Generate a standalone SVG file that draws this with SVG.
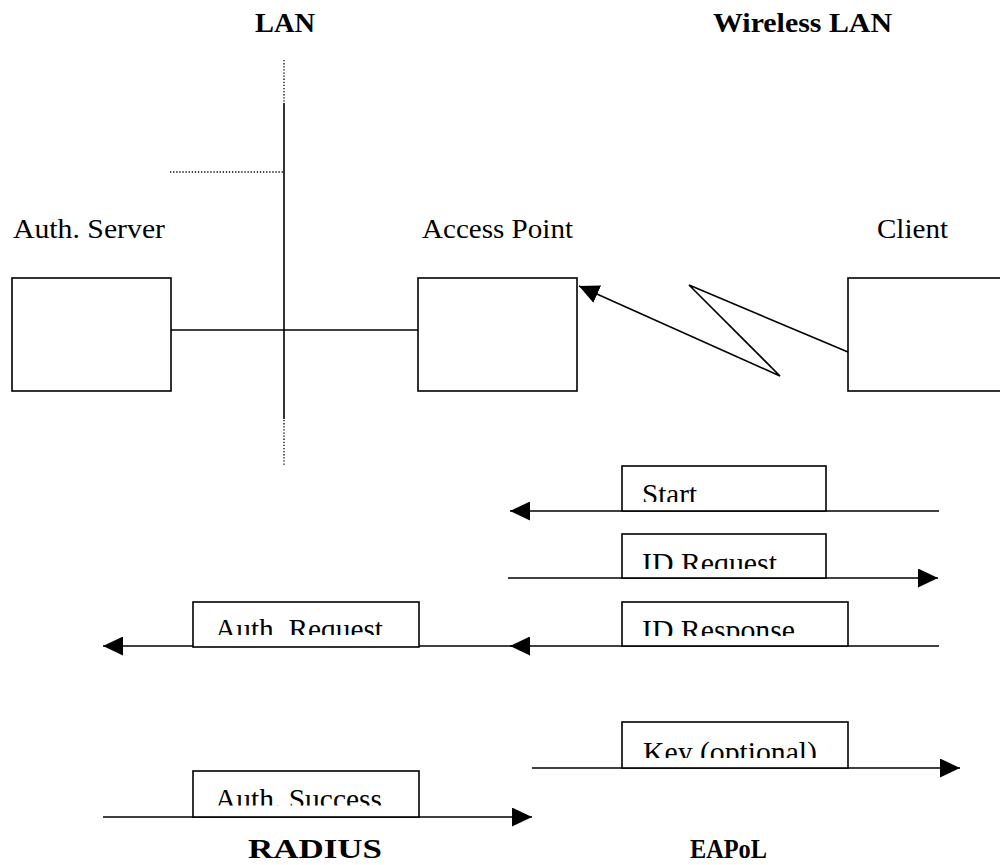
<svg xmlns="http://www.w3.org/2000/svg" width="1000" height="865" viewBox="0 0 1000 865">
  <style>
    .ln { stroke: #000; stroke-width: 1.6; fill: none; }
    .dot { stroke: #000; stroke-width: 1.3; fill: none; stroke-dasharray: 1.3 1.8; }
    .box { stroke: #000; stroke-width: 1.6; fill: #fff; }
    .hdr { font-family: "Liberation Serif", "Times New Roman", serif; font-size: 28px; font-weight: bold; fill: #000; }
    .name { font-family: "Liberation Serif", "Times New Roman", serif; font-size: 27px; fill: #000; }
    .msg { font-family: "Liberation Serif", "Times New Roman", serif; font-size: 30px; fill: #000; }
  </style>
  <defs>
    <marker id="arrow" markerUnits="userSpaceOnUse" markerWidth="20" markerHeight="19" refX="20" refY="9.5" orient="auto">
      <path d="M0,0 L20,9.5 L0,19 z" fill="#000"/>
    </marker>
    <clipPath id="c-start"><rect x="622" y="466" width="204" height="36"/></clipPath>
    <clipPath id="c-idreq"><rect x="622" y="534" width="204" height="35"/></clipPath>
    <clipPath id="c-idresp"><rect x="622" y="602" width="226" height="34"/></clipPath>
    <clipPath id="c-authreq"><rect x="193" y="602" width="226" height="33"/></clipPath>
    <clipPath id="c-key"><rect x="622" y="722" width="226" height="36"/></clipPath>
    <clipPath id="c-authsucc"><rect x="193" y="771" width="226" height="34.5"/></clipPath>
  </defs>

  <!-- headings -->
  <text class="hdr" x="255" y="32" textLength="60" lengthAdjust="spacingAndGlyphs">LAN</text>
  <text class="hdr" x="713" y="32" textLength="179" lengthAdjust="spacingAndGlyphs">Wireless LAN</text>
  <text class="hdr" x="248" y="858" textLength="134" lengthAdjust="spacingAndGlyphs">RADIUS</text>
  <text class="hdr" x="690" y="858" textLength="77" lengthAdjust="spacingAndGlyphs">EAPoL</text>

  <!-- LAN backbone -->
  <g id="lan">
    <line class="dot" x1="284" y1="60" x2="284" y2="103"/>
    <line class="ln" x1="284" y1="103" x2="284" y2="419"/>
    <line class="dot" x1="284" y1="420" x2="284" y2="465"/>
    <line class="dot" x1="170" y1="172" x2="284" y2="172"/>
  </g>

  <!-- network elements -->
  <g id="auth-server">
    <text class="name" x="13" y="238" textLength="152" lengthAdjust="spacingAndGlyphs">Auth. Server</text>
    <rect class="box" x="12" y="278" width="159" height="113"/>
  </g>
  <g id="access-point">
    <text class="name" x="422" y="238" textLength="151" lengthAdjust="spacingAndGlyphs">Access Point</text>
    <rect class="box" x="418" y="278" width="159" height="113"/>
  </g>
  <g id="client">
    <text class="name" x="877" y="238" textLength="71" lengthAdjust="spacingAndGlyphs">Client</text>
    <rect class="box" x="848" y="278" width="170" height="113"/>
  </g>

  <!-- links -->
  <g id="connectors">
    <line class="ln" x1="171" y1="330" x2="418" y2="330"/>
    <polyline class="ln" points="848,352 689,285 780,376 579,286" marker-end="url(#arrow)"/>

    <!-- message flow -->
    <line class="ln" x1="939" y1="511" x2="510" y2="511" marker-end="url(#arrow)"/>
    <line class="ln" x1="508" y1="578" x2="938" y2="578" marker-end="url(#arrow)"/>
    <line class="ln" x1="939" y1="646" x2="510" y2="646" marker-end="url(#arrow)"/>
    <line class="ln" x1="512" y1="646" x2="103" y2="646" marker-end="url(#arrow)"/>
    <line class="ln" x1="532" y1="768" x2="960" y2="768" marker-end="url(#arrow)"/>
    <line class="ln" x1="103" y1="817" x2="532" y2="817" marker-end="url(#arrow)"/>
  </g>

  <!-- message labels -->
  <g id="msg-start">
    <rect class="box" x="622" y="466" width="204" height="45"/>
    <text class="msg" x="642" y="503.5" clip-path="url(#c-start)" textLength="55" lengthAdjust="spacingAndGlyphs">Start</text>
  </g>
  <g id="msg-id-request">
    <rect class="box" x="622" y="534" width="204" height="44"/>
    <text class="msg" x="642" y="573" clip-path="url(#c-idreq)" textLength="135" lengthAdjust="spacingAndGlyphs">ID Request</text>
  </g>
  <g id="msg-id-response">
    <rect class="box" x="622" y="602" width="226" height="44"/>
    <text class="msg" x="642" y="639.5" clip-path="url(#c-idresp)" textLength="153" lengthAdjust="spacingAndGlyphs">ID Response</text>
  </g>
  <g id="msg-auth-request">
    <rect class="box" x="193" y="602" width="226" height="45"/>
    <text class="msg" x="215" y="638.5" clip-path="url(#c-authreq)" textLength="168" lengthAdjust="spacingAndGlyphs">Auth. Request</text>
  </g>
  <g id="msg-key">
    <rect class="box" x="622" y="722" width="226" height="46"/>
    <text class="msg" x="643" y="762" clip-path="url(#c-key)" textLength="174" lengthAdjust="spacingAndGlyphs">Key (optional)</text>
  </g>
  <g id="msg-auth-success">
    <rect class="box" x="193" y="771" width="226" height="46"/>
    <text class="msg" x="215" y="809" clip-path="url(#c-authsucc)" textLength="167" lengthAdjust="spacingAndGlyphs">Auth. Success</text>
  </g>
</svg>
